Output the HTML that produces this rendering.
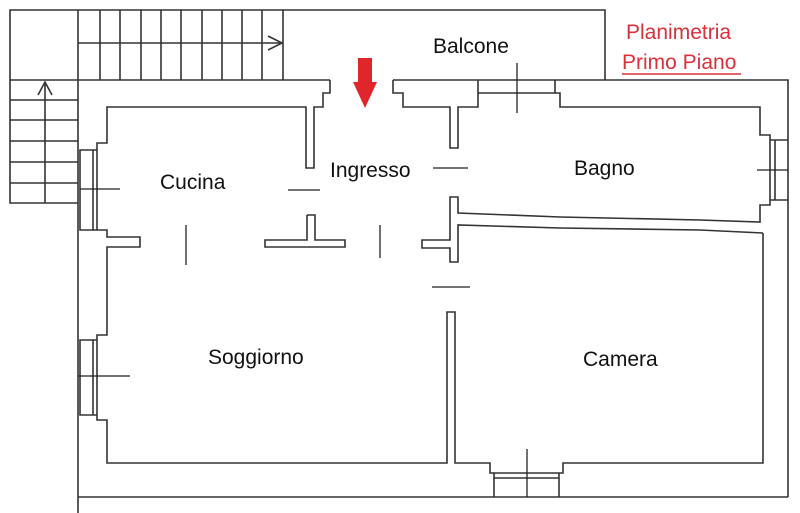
<!DOCTYPE html>
<html><head><meta charset="utf-8"><style>
html,body{margin:0;padding:0;background:#fff;}
svg{display:block;}
text{font-family:"Liberation Sans",sans-serif;}
</style></head><body>
<svg width="800" height="513" viewBox="0 0 800 513" xmlns="http://www.w3.org/2000/svg">
<g fill="none" stroke="#333" stroke-width="1.6">
<polyline points="10,80 10,10 605,10 605,80"/>
<line x1="78" y1="10" x2="78" y2="80"/>
<line x1="78" y1="43" x2="283" y2="43"/>
<line x1="283" y1="10" x2="283" y2="80"/>
<line x1="100" y1="10" x2="100" y2="80"/><line x1="120" y1="10" x2="120" y2="80"/>
<line x1="141" y1="10" x2="141" y2="80"/><line x1="161" y1="10" x2="161" y2="80"/>
<line x1="181" y1="10" x2="181" y2="80"/><line x1="202" y1="10" x2="202" y2="80"/>
<line x1="222" y1="10" x2="222" y2="80"/><line x1="242" y1="10" x2="242" y2="80"/>
<line x1="262" y1="10" x2="262" y2="80"/>
<polyline points="268,36 282,43 268,50"/>
<polyline points="10,80 10,203 78,203"/>
<line x1="10" y1="80" x2="78" y2="80"/>
<line x1="10" y1="100" x2="78" y2="100"/><line x1="10" y1="120" x2="78" y2="120"/>
<line x1="10" y1="141" x2="78" y2="141"/><line x1="10" y1="162" x2="78" y2="162"/>
<line x1="10" y1="183" x2="78" y2="183"/>
<line x1="45" y1="82" x2="45" y2="203"/>
<polyline points="38,95 45,82 52,95"/>
<polyline points="330,80 78,80 78,513"/>
<polyline points="393,80 788,80 788,497"/>
<line x1="78" y1="497" x2="788" y2="497"/>
<polyline points="330,80 330,93 323,93 323,107 314,107 314,168 306,168 306,107 107,107 107,143 97,143 97,230 107,230 107,237 140,237 140,247 107,247 107,335 97,335 97,420 107,420 107,463 447,463 447,312 455,312 455,463 490,463 490,473 563,473 563,463 763,463 763,233"/>
<polyline points="97,150 80,150 80,230 97,230"/>
<line x1="93" y1="150" x2="93" y2="230"/>
<polyline points="97,340 80,340 80,415 97,415"/>
<line x1="93" y1="340" x2="93" y2="415"/>
<polyline points="393,80 393,93 403,93 403,107 450,107 450,148 458,148 458,107 478,107 478,93 555,93 555,80"/>
<line x1="478" y1="80" x2="478" y2="93"/>
<polyline points="555,93 560,93 560,107 760,107 760,135 770,135 770,205 760,205 760,222 700,220 560,217 458,213 458,197 450,197 450,240 422,240 422,248 450,248 450,262 458,262 458,225 560,228 700,230 763,233"/>
<polyline points="770,140 788,140"/><polyline points="770,200 788,200"/>
<line x1="775" y1="140" x2="775" y2="200"/>
<polyline points="494,473 494,497"/><polyline points="559,473 559,497"/>
<line x1="494" y1="478" x2="559" y2="478"/>
<polyline points="307,215 315,215 315,240 345,240 345,247 265,247 265,240 307,240 307,215"/>
</g>
<g stroke="#222" stroke-width="1.3">
<line x1="288" y1="190" x2="320" y2="190"/>
<line x1="433" y1="168" x2="468" y2="168"/>
<line x1="432" y1="287" x2="470" y2="287"/>
<line x1="186" y1="225" x2="186" y2="265"/>
<line x1="380" y1="225" x2="380" y2="258"/>
<line x1="80" y1="189" x2="120" y2="189"/>
<line x1="78" y1="376" x2="130" y2="376"/>
<line x1="757" y1="170" x2="788" y2="170"/>
<line x1="517" y1="63" x2="517" y2="113"/>
<line x1="527" y1="449" x2="527" y2="497"/>
</g>
<polygon points="358,58 372,58 372,82 377,82 365,108 353,82 358,82" fill="#e0252b"/>
<g font-size="21" fill="#111">
<text x="433" y="53">Balcone</text>
<text x="160" y="189">Cucina</text>
<text x="330" y="177">Ingresso</text>
<text x="574" y="175">Bagno</text>
<text x="208" y="364">Soggiorno</text>
<text x="583" y="366">Camera</text>
</g>
<g font-size="21" fill="#d9303a">
<text x="626" y="39">Planimetria</text>
<text x="622" y="69">Primo Piano</text>
</g>
<line x1="622" y1="74" x2="741" y2="74" stroke="#d9303a" stroke-width="1.5"/>
</svg>
</body></html>
